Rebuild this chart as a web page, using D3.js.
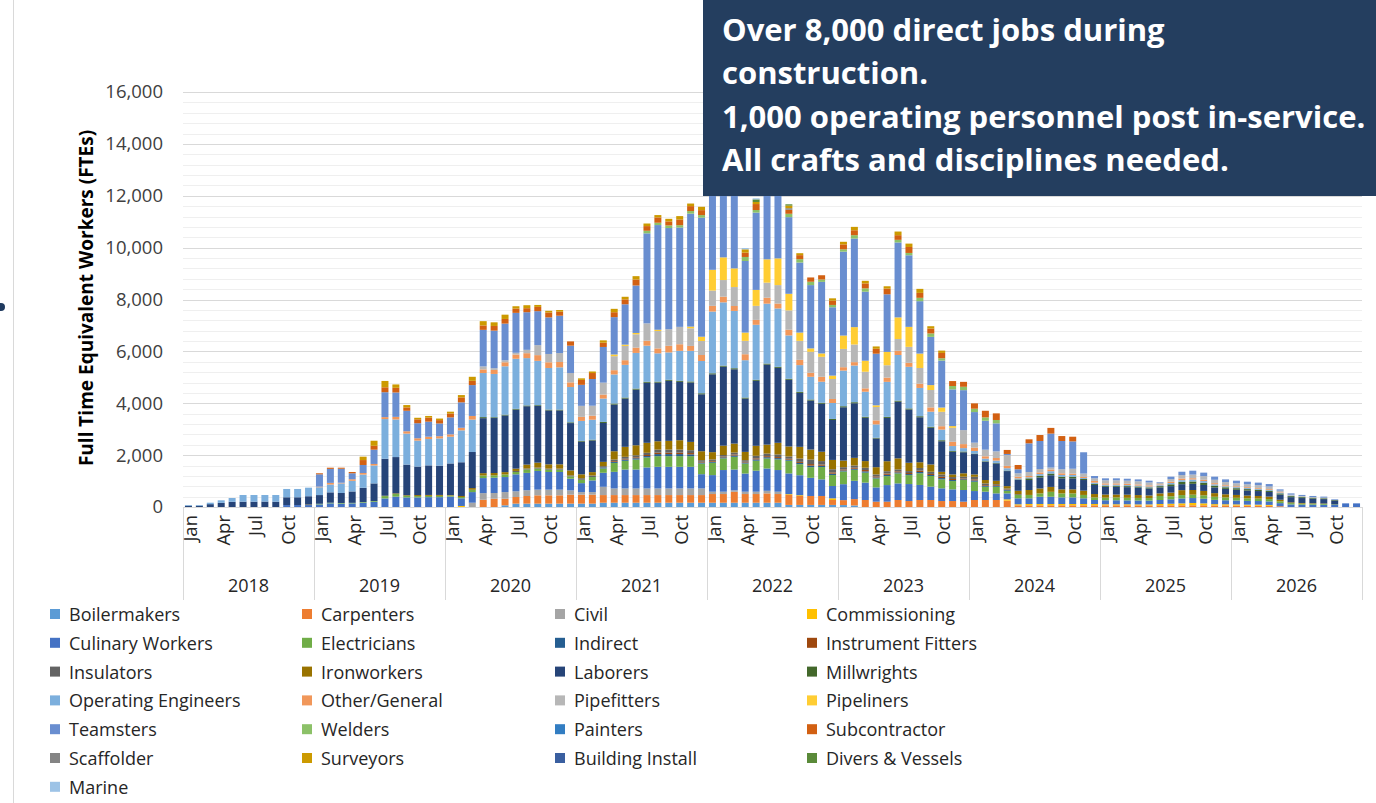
<!DOCTYPE html>
<html><head><meta charset="utf-8">
<script src="https://cdn.jsdelivr.net/npm/d3@7"></script>
<style>
html,body{margin:0;padding:0;background:#fff;}
svg{display:block;font-family:"Open Sans",Lato,sans-serif;}
</style></head><body>
<svg id="chart" width="1376" height="803"></svg>
<script>
// Workforce plan: monthly full-time equivalent workers by craft, 2018-2026
const years = [2018, 2019, 2020, 2021, 2022, 2023, 2024, 2025, 2026];
const monthNames = ["Jan","Feb","Mar","Apr","May","Jun","Jul","Aug","Sep","Oct","Nov","Dec"];
const monthsShown = ["Jan","Apr","Jul","Oct"];
const yTicks = [0, 2000, 4000, 6000, 8000, 10000, 12000, 14000, 16000];

const seriesNames = ["Boilermakers","Carpenters","Civil","Commissioning","Culinary Workers","Electricians",
  "Indirect","Instrument Fitters","Insulators","Ironworkers","Laborers","Millwrights",
  "Operating Engineers","Other/General","Pipefitters","Pipeliners","Teamsters","Welders",
  "Painters","Subcontractor","Scaffolder","Surveyors","Building Install","Divers & Vessels","Marine"];
const seriesColors = ["#5B9BD5","#ED7D31","#A5A5A5","#FFC000","#4472C4","#70AD47",
  "#255E91","#9E480E","#636363","#997300","#264478","#43682B",
  "#7CAFDD","#F1975A","#B7B7B7","#FFCD33","#698ED0","#8CC168",
  "#327DC2","#D26012","#848484","#CC9A00","#3A5FA0","#5A8A39","#9DC3E6"];

// One row per year (Jan..Dec)
const boilermakers = [
  0,0,0,0,0,0,0,0,0,0,0,0,
  0,0,0,0,0,0,0,0,0,0,0,0,
  0,0,0,0,0,65,130,130,130,130,130,130,
  130,130,165,165,165,165,165,165,165,165,165,165,
  165,165,165,165,165,165,165,80,80,80,80,80,
  75,60,0,0,0,0,0,0,0,0,0,0,
  0,0,0,0,0,0,0,0,0,0,0,0,
  0,0,0,0,0,0,0,0,0,0,0,0,
  0,0,0,0,0,0,0,0,0,0,0,0];
const carpenters = [
  0,0,0,0,0,0,0,0,0,0,0,0,
  0,0,0,0,0,0,0,0,0,0,0,0,
  0,0,0,280,320,255,255,295,320,320,320,345,
  345,345,295,295,295,295,295,295,295,295,295,295,
  335,335,420,335,335,360,335,385,345,345,345,190,
  190,245,270,205,205,270,230,270,270,230,230,205,
  270,270,270,245,65,65,65,65,65,65,65,65,
  65,65,65,60,60,65,65,65,65,65,60,60,
  55,50,50,45,30,0,0,0,0,0,0,0];
const civil = [
  0,0,0,0,0,0,0,0,0,0,0,0,
  0,0,0,0,0,0,0,0,0,0,0,0,
  0,0,165,255,220,255,220,220,220,220,220,165,
  100,100,320,255,255,255,255,255,255,255,255,255,
  90,90,60,90,90,100,90,0,0,0,0,0,
  0,0,0,0,0,0,0,0,0,0,0,0,
  0,0,0,0,0,0,0,0,0,0,0,0,
  0,0,0,0,0,0,0,0,0,0,0,0,
  0,0,0,0,0,0,0,0,0,0,0,0];
const commissioning = [
  0,0,0,0,0,0,0,0,0,0,0,0,
  0,0,0,0,0,0,0,0,0,0,0,0,
  0,40,0,0,0,0,0,0,0,0,0,0,
  0,0,0,0,0,0,0,0,0,0,0,0,
  0,0,0,0,0,0,0,30,30,0,0,65,
  0,0,0,0,0,0,0,0,0,0,0,0,
  0,0,0,50,40,50,50,50,50,50,50,50,
  40,40,40,40,40,50,60,75,90,75,50,45,
  45,40,40,35,0,0,0,0,0,0,0,0];
const culinaryWorkers = [
  0,0,0,0,0,0,0,0,0,75,75,75,
  100,140,130,140,165,200,330,400,370,370,380,380,
  400,295,410,580,590,580,655,670,720,680,680,450,
  345,450,540,640,730,730,810,835,835,835,835,550,
  640,835,800,700,810,860,835,800,770,700,640,475,
  615,705,670,550,640,640,655,580,515,490,450,450,
  345,320,255,230,230,220,280,280,255,255,220,155,
  155,155,150,150,145,155,170,190,190,180,165,155,
  150,145,140,135,120,100,90,90,85,80,140,140];
const electricians = [
  0,0,0,0,0,0,0,0,0,0,0,0,
  25,25,25,20,25,30,90,100,60,50,50,50,
  40,50,90,100,90,100,90,130,90,90,90,90,
  130,130,165,345,335,385,385,410,410,410,410,410,
  475,450,490,385,385,385,410,490,425,410,475,425,
  490,425,385,345,345,385,345,450,410,345,320,385,
  360,190,255,100,130,130,130,190,155,155,130,100,
  100,110,100,100,100,155,120,130,130,130,120,110,
  105,100,95,90,70,50,40,35,30,20,0,0];
const indirect = [
  0,0,0,0,0,0,0,0,0,0,0,0,
  0,0,0,0,0,0,0,0,0,0,0,0,
  0,0,0,0,0,0,0,0,0,0,0,0,
  0,0,40,40,50,50,55,80,80,80,70,40,
  40,40,50,40,50,50,50,40,50,60,50,50,
  40,40,50,40,50,40,40,50,40,50,40,30,
  50,30,30,30,0,0,0,0,0,0,0,0,
  0,0,0,0,0,0,0,0,0,0,0,0,
  0,0,0,0,0,0,0,0,0,0,0,0];
const instrumentFitters = [
  0,0,0,0,0,0,0,0,0,0,0,0,
  0,0,0,0,0,0,0,0,0,0,0,0,
  0,0,0,0,0,0,0,0,0,0,0,0,
  0,0,0,30,30,35,40,55,55,55,50,30,
  30,30,40,30,40,40,40,35,40,60,50,50,
  40,40,50,40,50,40,40,50,40,50,40,30,
  40,30,30,20,0,0,0,0,0,0,0,0,
  0,0,0,0,0,0,0,0,0,0,0,0,
  0,0,0,0,0,0,0,0,0,0,0,0];
const insulators = [
  0,0,0,0,0,0,0,0,0,0,0,0,
  0,0,0,0,0,0,0,0,0,0,0,0,
  0,0,0,0,0,0,40,40,40,40,40,40,
  60,60,50,60,75,80,85,120,120,120,110,60,
  60,60,75,60,100,100,100,90,130,175,130,120,
  85,85,90,75,90,75,75,105,85,90,75,70,
  100,70,40,40,30,0,0,0,0,0,0,0,
  0,0,0,0,0,0,0,0,0,0,0,0,
  0,0,0,0,0,0,0,0,0,0,0,0];
const ironworkers = [
  0,0,0,0,0,0,0,0,0,0,0,20,
  0,0,0,0,0,0,15,25,25,40,35,35,
  20,40,65,90,90,90,90,150,190,165,165,190,
  150,130,165,320,385,385,385,320,335,360,320,345,
  280,360,345,320,385,345,450,385,450,385,360,360,
  255,295,255,280,385,425,320,220,280,100,100,130,
  90,130,130,90,130,190,190,190,155,155,165,130,
  120,110,120,110,100,100,140,190,180,170,140,120,
  110,105,100,95,60,30,25,20,20,0,0,0];
const laborers = [
  50,50,110,160,200,205,205,210,205,300,300,320,
  335,400,385,440,550,680,1425,1400,1180,1100,1140,1130,
  1220,1300,1390,2120,2120,2185,2275,2250,2185,2080,2080,1825,
  1260,1220,1500,1800,1860,2145,2315,2260,2315,2250,2290,2195,
  3000,3045,2865,2055,2505,3085,2890,2570,2080,1890,1850,1540,
  2055,2105,1670,1105,1670,2185,2055,1735,1415,1180,875,810,
  785,705,670,580,420,385,425,450,425,425,410,350,
  300,300,290,290,270,230,250,230,240,230,220,210,
  200,195,190,180,200,200,190,180,170,150,0,0];
const millwrights = [
  0,0,0,0,0,0,0,0,0,0,0,0,
  0,0,0,0,0,0,0,0,0,0,0,0,
  0,0,0,40,30,30,30,30,30,30,30,30,
  30,30,40,40,40,40,40,40,40,40,40,40,
  40,40,40,40,40,40,40,40,40,40,40,40,
  40,40,40,30,40,40,40,40,40,40,30,30,
  20,20,20,20,20,65,65,65,65,65,40,40,
  40,40,40,40,40,50,70,90,90,85,70,60,
  60,55,55,50,45,40,35,30,30,20,0,0];
const operatingEngineers = [
  27,27,56,98,147,258,258,253,258,320,320,330,
  300,300,370,410,510,690,1530,1450,1195,1000,1015,1050,
  1030,1230,1250,1700,1670,1865,1930,1825,1710,1605,1630,1360,
  770,770,900,1120,1260,1375,1390,1090,1055,1155,1180,1245,
  2380,2440,2210,1440,2120,2310,2250,1670,1030,875,810,615,
  1375,1415,965,515,1350,1760,1605,1090,580,410,190,130,
  100,100,90,90,40,40,65,90,65,65,40,50,
  40,40,40,35,35,35,50,65,75,65,50,40,
  40,40,35,35,25,20,15,0,0,0,0,0];
const otherGeneral = [
  0,0,0,0,0,0,0,0,0,0,0,0,
  25,65,25,60,60,60,75,100,90,90,90,85,
  90,100,140,140,155,155,165,190,220,220,205,180,
  155,155,155,165,180,205,190,190,255,255,190,230,
  220,220,190,230,190,230,190,220,205,155,190,155,
  130,130,130,155,165,165,155,165,165,130,165,155,
  130,90,100,90,65,50,65,65,65,50,40,65,
  50,50,50,45,45,30,50,65,50,50,45,40,
  35,35,30,30,20,0,0,0,0,0,0,0];
const pipefitters = [
  0,0,0,0,0,0,0,0,0,0,0,0,
  0,0,0,0,0,0,0,0,0,0,0,0,
  0,0,0,115,65,75,65,130,385,320,345,360,
  425,385,460,540,550,515,670,670,640,670,680,540,
  590,640,730,515,540,580,710,745,730,810,770,770,
  705,680,640,515,475,450,615,605,670,555,540,540,
  190,255,255,420,130,155,130,75,155,190,130,100,
  120,120,120,120,110,65,100,130,140,140,130,120,
  115,110,105,95,60,35,30,25,25,0,0,0];
const pipeliners = [
  0,0,0,0,0,0,0,0,0,0,0,0,
  0,0,0,0,0,0,0,0,0,0,0,0,
  0,0,0,0,0,0,0,0,0,0,0,0,
  0,0,0,65,50,50,0,50,0,0,65,165,
  800,875,720,320,615,900,1030,640,320,130,130,130,
  515,670,425,65,515,835,770,555,190,165,65,0,
  0,0,0,0,0,0,0,0,0,0,0,0,
  0,0,0,0,0,0,0,0,0,0,0,0,
  0,0,0,0,0,0,0,0,0,0,0,0];
const teamsters = [
  0,0,0,0,0,0,0,0,0,0,0,0,
  475,540,540,230,310,550,960,940,790,580,580,490,
  655,980,1190,1410,1450,1415,1540,1450,1310,1410,1440,1055,
  810,1030,1375,1440,1555,1830,3470,4035,3900,3830,4355,4590,
  3700,3900,3600,2760,2980,3800,3700,2955,2700,2440,2760,2635,
  3235,3415,2660,1990,2220,2890,2760,2020,1860,1810,1415,1540,
  1180,1115,1080,40,155,1105,1080,1310,1090,1055,820,90,
  75,75,75,75,70,25,95,130,150,135,120,105,
  100,100,100,95,50,50,40,45,40,25,0,0];
const welders = [
  0,0,0,0,0,0,0,0,0,0,0,0,
  0,0,0,0,0,0,0,0,0,0,0,0,
  0,0,0,0,0,0,0,0,0,0,0,0,
  0,0,0,0,0,0,100,90,100,90,100,100,
  100,100,100,155,100,100,100,130,130,130,90,90,
  90,130,130,0,0,100,90,130,130,90,130,130,
  130,130,130,0,0,0,0,0,0,0,0,0,
  0,0,0,0,0,0,0,0,0,0,0,0,
  0,0,0,0,0,0,0,0,0,0,0,0];
const painters = [
  0,0,0,0,0,0,0,0,0,0,0,0,
  0,0,0,0,0,0,0,0,0,0,0,0,
  0,0,0,0,0,0,0,0,0,0,0,0,
  0,0,0,0,0,0,0,0,0,0,0,0,
  0,0,0,0,0,0,0,0,0,0,0,0,
  0,0,0,0,0,0,0,0,0,0,0,0,
  0,0,0,0,0,0,0,0,0,0,0,0,
  0,0,0,0,0,0,0,0,0,0,0,0,
  0,0,0,0,0,0,0,0,0,0,0,0];
const subcontractor = [
  0,0,0,0,0,0,0,0,0,0,0,0,
  40,45,40,50,190,150,190,180,130,150,155,130,
  150,190,165,170,180,180,165,155,165,190,155,165,
  190,230,165,190,190,230,180,205,155,220,190,190,
  200,200,190,165,230,200,200,155,155,165,165,165,
  190,190,190,190,220,180,230,190,190,205,190,190,
  205,255,255,155,165,155,230,220,190,180,0,0,
  0,0,0,0,0,0,0,0,0,0,0,0,
  0,0,0,0,0,0,0,0,0,0,0,0];
const scaffolder = [
  0,0,0,0,0,0,0,0,0,0,0,0,
  0,0,0,0,0,0,0,0,0,0,0,0,
  0,0,0,0,0,0,0,0,0,0,0,0,
  0,0,0,0,0,0,0,0,0,0,0,0,
  0,0,0,0,0,0,0,60,0,0,0,0,
  0,0,0,0,0,0,0,0,0,0,0,0,
  0,0,0,0,0,0,0,0,0,0,0,0,
  0,0,0,0,0,0,0,0,0,0,0,0,
  0,0,0,0,0,0,0,0,0,0,0,0];
const surveyors = [
  0,0,0,0,0,0,0,0,0,0,0,0,
  0,0,0,0,130,195,245,130,90,60,65,60,
  70,90,155,165,140,165,90,115,75,65,65,0,
  60,60,90,130,100,130,100,90,100,130,100,130,
  120,120,110,130,80,100,100,100,75,0,0,90,
  100,130,100,90,90,140,130,155,90,90,0,0,
  0,0,0,0,0,0,0,0,0,0,0,0,
  0,0,0,0,0,0,0,0,0,0,0,0,
  0,0,0,0,0,0,0,0,0,0,0,0];
const buildingInstall = [
  0,0,0,0,0,0,0,0,0,0,0,0,
  0,0,0,0,0,0,0,0,0,0,0,0,
  0,0,0,0,0,0,0,0,0,0,0,0,
  0,0,0,0,0,0,0,0,0,0,0,0,
  0,0,0,0,0,0,0,0,0,0,0,0,
  0,0,0,0,0,0,0,0,0,0,0,0,
  0,0,0,0,0,0,0,0,0,0,0,0,
  0,0,0,0,0,0,0,0,0,0,0,0,
  0,0,0,0,0,0,0,0,0,0,0,0];
const diversVessels = [
  0,0,0,0,0,0,0,0,0,0,0,0,
  0,0,0,0,0,0,0,0,0,0,0,0,
  0,0,0,0,0,0,0,0,0,0,0,0,
  0,0,0,0,0,0,0,0,0,0,0,0,
  0,0,0,0,100,0,0,50,0,0,0,0,
  0,0,0,0,0,0,0,0,0,0,0,0,
  0,0,0,0,0,0,0,0,0,0,0,0,
  0,0,0,0,0,0,0,0,0,0,0,0,
  0,0,0,0,0,0,0,0,0,0,0,0];
const marine = [
  0,0,0,0,0,0,0,0,0,0,0,0,
  0,0,0,0,0,0,0,0,0,0,0,0,
  0,0,0,0,0,0,0,0,0,0,0,0,
  0,0,0,0,0,0,0,0,0,0,0,0,
  0,0,0,50,40,0,0,0,0,0,0,0,
  0,0,0,0,0,0,0,0,0,0,0,0,
  0,0,0,0,0,0,0,0,0,0,0,0,
  0,0,0,0,0,0,0,0,0,0,0,0,
  0,0,0,0,0,0,0,0,0,0,0,0];

const seriesValues = [boilermakers, carpenters, civil, commissioning, culinaryWorkers, electricians,
  indirect, instrumentFitters, insulators, ironworkers, laborers, millwrights,
  operatingEngineers, otherGeneral, pipefitters, pipeliners, teamsters, welders,
  painters, subcontractor, scaffolder, surveyors, buildingInstall, diversVessels, marine];

const headline = ["Over 8,000 direct jobs during", "construction.",
  "1,000 operating personnel post in-service.", "All crafts and disciplines needed."];
const yTitle = "Full Time Equivalent Workers (FTEs)";

// ---- table for d3.stack ----
const months = [];
years.forEach(y => monthNames.forEach((m, mi) => months.push({key: y + "-" + mi, year: y, month: m})));
const rows = months.map((mo, i) => {
  const r = {key: mo.key};
  seriesNames.forEach((s, si) => r[s] = seriesValues[si][i]);
  return r;
});

const svg = d3.select("#chart");
const W = 1376, H = 803;
const plot = {left: 183, right: 1362, top: 92, bottom: 507};

const x = d3.scaleBand().domain(months.map(d => d.key)).range([plot.left, plot.right]).paddingInner(0.36).paddingOuter(0.18);
const y = d3.scaleLinear().domain([0, 16000]).range([plot.bottom, plot.top]);
const color = d3.scaleOrdinal().domain(seriesNames).range(seriesColors);

// outer chart border line and stray marker at the left edge
svg.append("line").attr("x1", 13.5).attr("x2", 13.5).attr("y1", 0).attr("y2", H)
  .attr("stroke", "#d9d9d9").attr("stroke-width", 1);
svg.append("circle").attr("cx", 1).attr("cy", 307).attr("r", 4).attr("fill", "#1f3a5f");

// gridlines: minor every 400, major every 2000
const minor = d3.range(400, 16001, 400).filter(v => v % 2000 !== 0);
svg.append("g").selectAll("line").data(minor).join("line")
  .attr("x1", plot.left).attr("x2", plot.right)
  .attr("y1", d => Math.round(y(d)) + 0.5).attr("y2", d => Math.round(y(d)) + 0.5)
  .attr("stroke", "#efefef").attr("stroke-width", 1);
svg.append("g").selectAll("line").data(yTicks.filter(v => v > 0)).join("line")
  .attr("x1", plot.left).attr("x2", plot.right)
  .attr("y1", d => Math.round(y(d)) + 0.5).attr("y2", d => Math.round(y(d)) + 0.5)
  .attr("stroke", "#d9d9d9").attr("stroke-width", 1);

// y axis labels
const yAxis = d3.axisLeft(y).tickValues(yTicks).tickSize(0).tickPadding(20).tickFormat(d3.format(","));
const gy = svg.append("g").attr("transform", `translate(${plot.left},0)`).call(yAxis);
gy.select(".domain").remove();
gy.selectAll("text").attr("font-size", 18.5).attr("fill", "#404040").attr("font-family", "Open Sans");

// stacked bars
const stack = d3.stack().keys(seriesNames);
const layers = stack(rows);
svg.append("g").selectAll("g").data(layers).join("g")
  .attr("fill", d => color(d.key))
  .selectAll("rect").data(d => d).join("rect")
  .attr("x", d => x(d.data.key))
  .attr("width", x.bandwidth())
  .attr("y", d => y(d[1]))
  .attr("height", d => Math.max(0, y(d[0]) - y(d[1])));

// category axis frame
const axisG = svg.append("g");
axisG.append("line").attr("x1", plot.left).attr("x2", plot.right)
  .attr("y1", plot.bottom + 0.5).attr("y2", plot.bottom + 0.5).attr("stroke", "#d9d9d9");
const yearEdges = years.map(yr => x(yr + "-0") - x.step() * x.paddingOuter()).concat([plot.right]);
axisG.selectAll("line.sep").data(yearEdges).join("line").attr("class", "sep")
  .attr("x1", d => Math.round(d) + 0.5).attr("x2", d => Math.round(d) + 0.5)
  .attr("y1", plot.bottom).attr("y2", 600).attr("stroke", "#d9d9d9");

// month labels
const monthLabels = months.filter(d => monthsShown.includes(d.month));
axisG.selectAll("text.month").data(monthLabels).join("text").attr("class", "month")
  .attr("transform", d => `translate(${x(d.key) + x.bandwidth() / 2 + 1},515) rotate(-90)`)
  .attr("text-anchor", "end").attr("dominant-baseline", "central")
  .attr("font-size", 18.5).attr("fill", "#262626").text(d => d.month);

// year labels
axisG.selectAll("text.year").data(years).join("text").attr("class", "year")
  .attr("x", (d, i) => (yearEdges[i] + yearEdges[i + 1]) / 2).attr("y", 592)
  .attr("text-anchor", "middle").attr("font-size", 18).attr("fill", "#262626").text(d => d);

// y axis title
svg.append("text").attr("transform", "translate(93,298) rotate(-90)")
  .attr("text-anchor", "middle").attr("font-weight", "bold").attr("font-size", 19)
  .attr("fill", "#000").text(yTitle);

// legend: 4 columns
const legCols = [50, 302, 555, 807], legRow0 = 614, legStep = 28.8;
const leg = svg.append("g").selectAll("g").data(seriesNames).join("g")
  .attr("transform", (d, i) => `translate(${legCols[i % 4]},${legRow0 + Math.floor(i / 4) * legStep})`);
leg.append("rect").attr("x", 0).attr("y", -5).attr("width", 10).attr("height", 10).attr("fill", d => color(d));
leg.append("text").attr("x", 19).attr("y", 0).attr("dominant-baseline", "central")
  .attr("font-size", 18).attr("fill", "#262626").text(d => d);

// headline box
svg.append("rect").attr("x", 703).attr("y", 0).attr("width", W - 703).attr("height", 196).attr("fill", "#243E5F");
svg.append("g").selectAll("text").data(headline).join("text")
  .attr("x", 722).attr("y", (d, i) => 41 + i * 43.3)
  .attr("font-size", 31).attr("font-weight", "bold").attr("fill", "#fff").text(d => d);
</script>
</body></html>
